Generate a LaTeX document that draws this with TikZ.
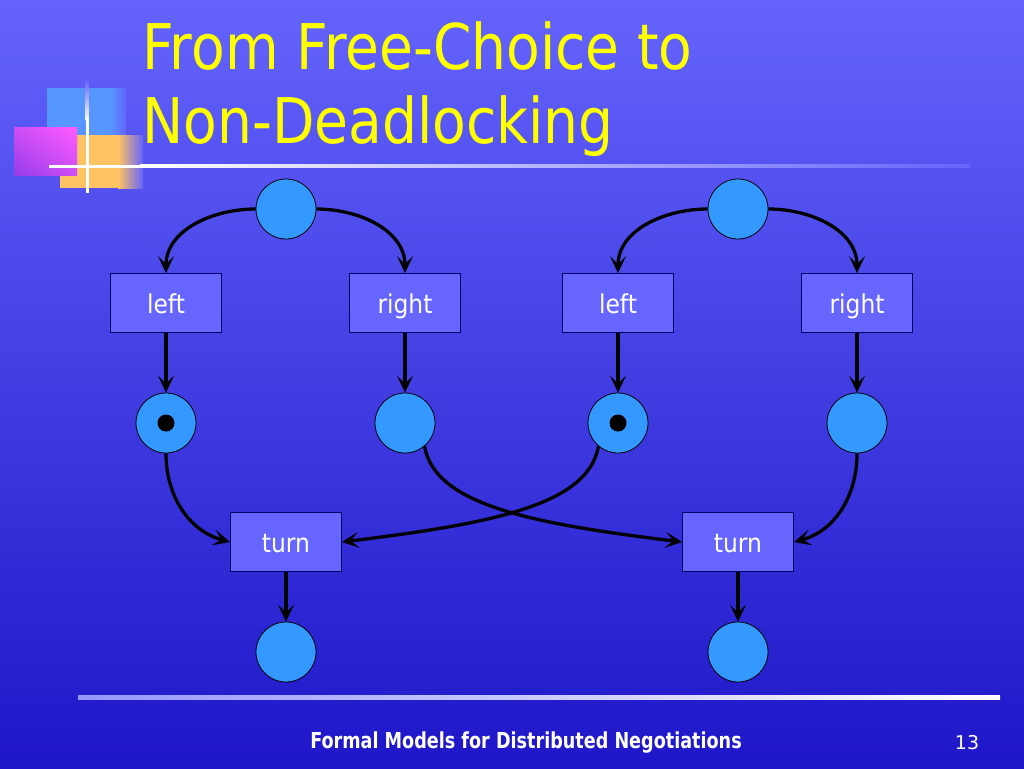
\documentclass[tikz,border=0pt]{standalone}
\usepackage{fontspec}
\setmainfont{DejaVu Sans}
\newfontfamily\titlefont{DejaVu Sans}[FakeStretch=0.875]
\newfontfamily\labelfont{DejaVu Sans}[FakeStretch=0.9]
\newfontfamily\footfont{DejaVu Sans}[FakeStretch=0.8]
\usetikzlibrary{arrows.meta,shapes,shadings,positioning}
\definecolor{slidetop}{RGB}{100,100,252}
\definecolor{slidemid}{RGB}{68,64,228}
\definecolor{slidebot}{RGB}{30,22,200}
\definecolor{placeblue}{RGB}{51,153,255}
\definecolor{transviolet}{RGB}{102,102,255}
\definecolor{titleyellow}{RGB}{255,255,0}
\definecolor{decoblue}{RGB}{85,150,255}
\definecolor{decoorange}{RGB}{255,195,100}
\definecolor{pinkhi}{RGB}{255,90,255}
\definecolor{pinklo}{RGB}{150,60,235}
\definecolor{pinkmid}{RGB}{205,78,245}
\definecolor{rulelav}{RGB}{150,150,255}

\tikzset{
  place/.style={circle,draw=black,fill=placeblue,minimum size=60pt,inner sep=0pt,line width=0.8pt},
  token/.style={circle,fill=black,minimum size=17pt,inner sep=0pt},
  trans/.style={rectangle,draw=black!60!blue,fill=transviolet,line width=0.8pt,
    minimum width=111pt,minimum height=59pt,text height=20pt,text depth=0pt,
    text=white,font=\labelfont\fontsize{26}{30}\selectfont},
  arc/.style={-{Stealth[length=17pt,width=16pt,inset=8pt]},line width=3.3pt,black}
}

\begin{document}
\begin{tikzpicture}[x=1pt,y=-1pt]
    \shade[top color=slidetop,middle color=slidemid,bottom color=slidebot] (0,0) rectangle (1024,768);
    \useasboundingbox (0,0) rectangle (1024,768);

    \fill[decoblue] (47,88) rectangle (110,140);
    \shade[left color=decoblue,right color=slidetop] (110,88) rectangle (126,140);
    \fill[decoorange] (60,135) rectangle (118,188);
    \shade[left color=decoorange,right color=slidetop] (118,135) rectangle (143,188);
    \shade[upper right=pinkhi,lower left=pinklo,upper left=pinkmid,lower right=pinkmid] (14,127) rectangle (77,175);
    \shade[top color=slidetop,bottom color=white] (85.5,80) rectangle (88.5,120);
    \fill[white] (85.5,120) rectangle (88.5,193);
    \fill[white] (49,164.5) rectangle (140,167.5);
    \shade[left color=white,right color=slidetop] (140,164.5) rectangle (970,167.5);
    \shade[left color=rulelav,right color=white] (78,695) rectangle (1000,699);

    \node[anchor=base west,inner sep=0pt,text=titleyellow,font=\titlefont\fontsize{63}{70}\selectfont] (title1) at (142,70) {From Free-Choice to};
    \node[anchor=base west,inner sep=0pt,text=titleyellow,font=\titlefont\fontsize{63}{70}\selectfont] (title2) at (142,143) {Non-Deadlocking};

    \node[place] (p0) at (286,209) {};
    \node[place] (q0) at (738,209) {};
    \node[trans] (left1) at (166,303) {left};
    \node[trans] (right1) at (405,303) {right};
    \node[trans] (left2) at (618,303) {left};
    \node[trans] (right2) at (857,303) {right};
    \node[place] (p1) at (166,423) {};
    \node[place] (p2) at (405,423) {};
    \node[place] (q1) at (618,423) {};
    \node[place] (q2) at (857,423) {};
    \node[token] (tok1) at (p1) {};
    \node[token] (tok2) at (q1) {};
    \node[trans] (turn1) at (286,542) {turn};
    \node[trans] (turn2) at (738,542) {turn};
    \node[place] (p3) at (286,652) {};
    \node[place] (q3) at (738,652) {};

    \draw[arc] (p0.west) to[out=180,in=90] (left1.north);
    \draw[arc] (p0.east) to[out=0,in=90] (right1.north);
    \draw[arc] (q0.west) to[out=180,in=90] (left2.north);
    \draw[arc] (q0.east) to[out=0,in=90] (right2.north);
    \draw[arc] (left1) -- (p1);
    \draw[arc] (right1) -- (p2);
    \draw[arc] (left2) -- (q1);
    \draw[arc] (right2) -- (q2);
    \draw[arc] (p1.south) to[out=270,in=165] (turn1.west);
    \draw[arc] (p2.-50) to[out=-80,in=173,out distance=60pt,in distance=150pt] (turn2.west);
    \draw[arc] (q1.-130) to[out=-100,in=7,out distance=60pt,in distance=150pt] (turn1.east);
    \draw[arc] (q2.south) to[out=270,in=15] (turn2.east);
    \draw[arc] (turn1) -- (p3);
    \draw[arc] (turn2) -- (q3);

    \node[text=white,font=\footfont\bfseries\fontsize{22}{24}\selectfont] (footer) at (526,743) {Formal Models for Distributed Negotiations};
    \node[text=white,font=\fontsize{19}{22}\selectfont] (pagenum) at (967,743) {13};
\end{tikzpicture}
\end{document}
